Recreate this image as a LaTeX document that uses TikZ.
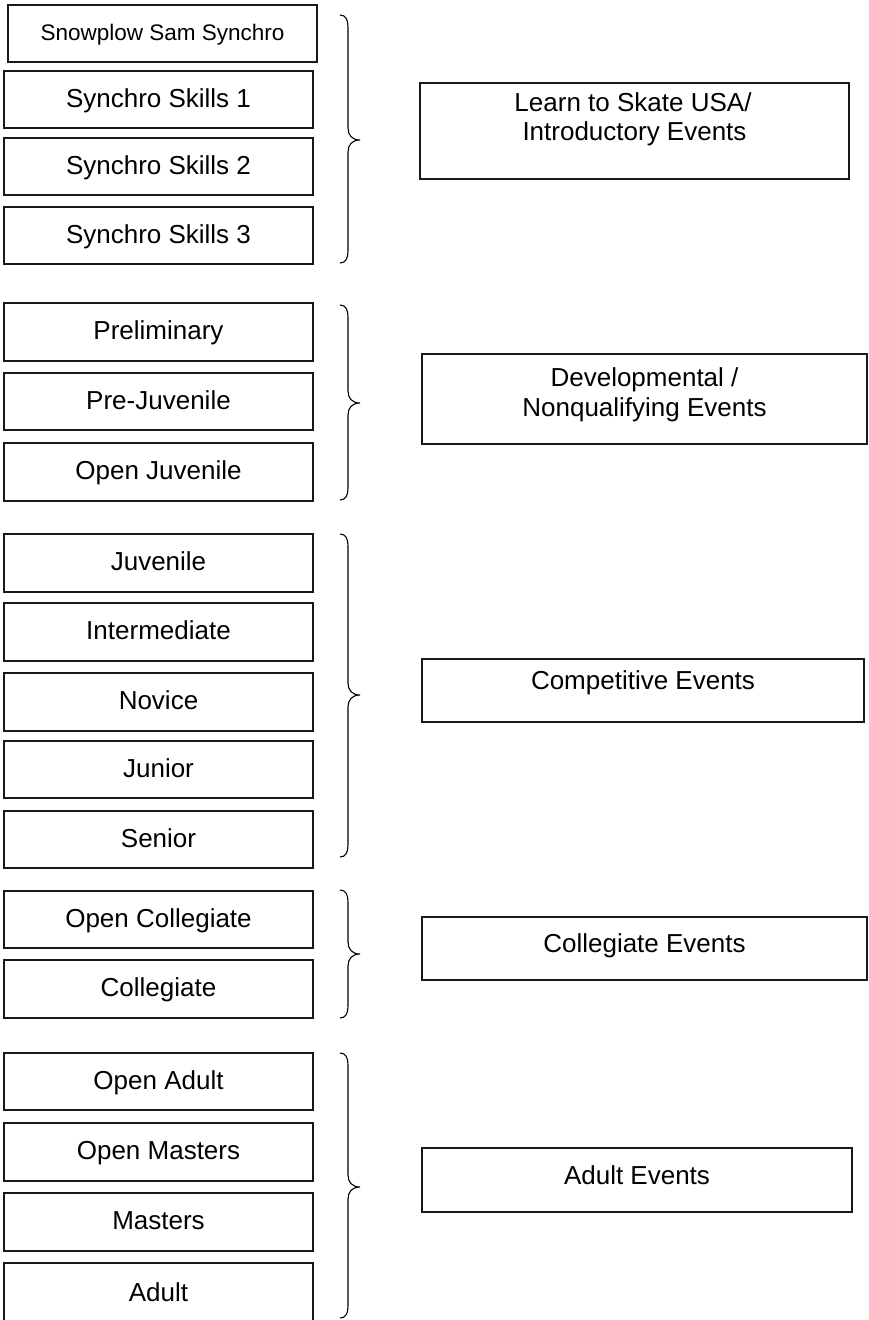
\documentclass[tikz,border=0pt]{standalone}
\usepackage{fontspec}
\setmainfont{Liberation Sans}
\newcommand\mybrace[3]{%
  \draw[bracestyle] (340,#1) .. controls (346,#1) and (348,#1+5) .. (348,#1+12)
    -- (348,#2-12) .. controls (348,#2-5) and (352,#2) .. (360,#2)
    .. controls (352,#2) and (348,#2+5) .. (348,#2+12)
    -- (348,#3-12) .. controls (348,#3-5) and (346,#3) .. (340,#3);}
\begin{document}
\begin{tikzpicture}[x=1pt,y=-1pt,
  lbox/.style={draw=black!90,line width=1.3pt,minimum width=309pt,minimum height=57pt,inner sep=0pt,
    text height=18.6pt,text depth=3pt,font=\fontsize{26}{30}\selectfont},
  rbox/.style={draw=black!90,line width=1.3pt,inner sep=0pt},
  rtext/.style={inner sep=0pt,anchor=base,font=\fontsize{26}{30}\selectfont},
  bracestyle/.style={draw=black,line width=1.1pt}]
\useasboundingbox[fill=white] (0,0) rectangle (869,1320);
% left boxes
\node[lbox,font=\fontsize{22.5}{26}\selectfont,text height=16pt,text depth=2.5pt] (snow) at (162.5,33.5) {Snowplow Sam Synchro};
\node[lbox] (ss1) at (158.5,99.5) {Synchro Skills 1};
\node[lbox] (ss2) at (158.5,166.5) {Synchro Skills 2};
\node[lbox] (ss3) at (158.5,235.5) {Synchro Skills 3};
\node[lbox,minimum height=58pt] (prel) at (158.5,332) {Preliminary};
\node[lbox] (prej) at (158.5,401.5) {Pre-Juvenile};
\node[lbox,minimum height=58pt] (ojuv) at (158.5,472) {Open Juvenile};
\node[lbox,minimum height=58pt] (juv) at (158.5,563) {Juvenile};
\node[lbox,minimum height=58pt] (inter) at (158.5,632) {Intermediate};
\node[lbox,minimum height=58pt] (nov) at (158.5,702) {Novice};
\node[lbox] (jun) at (158.5,769.5) {Junior};
\node[lbox] (sen) at (158.5,839.5) {Senior};
\node[lbox] (ocoll) at (158.5,919.5) {Open Collegiate};
\node[lbox,minimum height=58pt] (coll) at (158.5,989) {Collegiate};
\node[lbox] (oad) at (158.5,1081.5) {Open Adult};
\node[lbox,minimum height=58pt] (omas) at (158.5,1152) {Open Masters};
\node[lbox,minimum height=58pt] (mas) at (158.5,1222) {Masters};
\node[lbox,minimum height=60pt] (adult) at (158.5,1293) {};
\node[rtext] (adultt) at (158.5,1301) {Adult};
% right boxes
\node[rbox,minimum width=429pt,minimum height=96pt] (learn) at (634.5,131) {};
\node[rtext] (learn1) at (633,111) {Learn to Skate USA/};
\node[rtext] (learn2) at (634.5,140.5) {Introductory Events};
\node[rbox,minimum width=445pt,minimum height=90pt] (dev) at (644.5,399) {};
\node[rtext] (dev1) at (644.5,386) {Developmental /};
\node[rtext] (dev2) at (644.5,416) {Nonqualifying Events};
\node[rbox,minimum width=442pt,minimum height=63pt] (comp) at (643,690.5) {};
\node[rtext] (compt) at (643,689) {Competitive Events};
\node[rbox,minimum width=445pt,minimum height=63pt] (colle) at (644.5,948.5) {};
\node[rtext] (collet) at (644.5,952.5) {Collegiate Events};
\node[rbox,minimum width=430pt,minimum height=64pt] (adulte) at (637,1180) {};
\node[rtext] (adultet) at (637,1184) {Adult Events};
% braces
\mybrace{15}{140}{263}
\mybrace{305}{403}{500}
\mybrace{534}{695}{857}
\mybrace{890}{954}{1018}
\mybrace{1053}{1187}{1318}
\end{tikzpicture}
\end{document}
